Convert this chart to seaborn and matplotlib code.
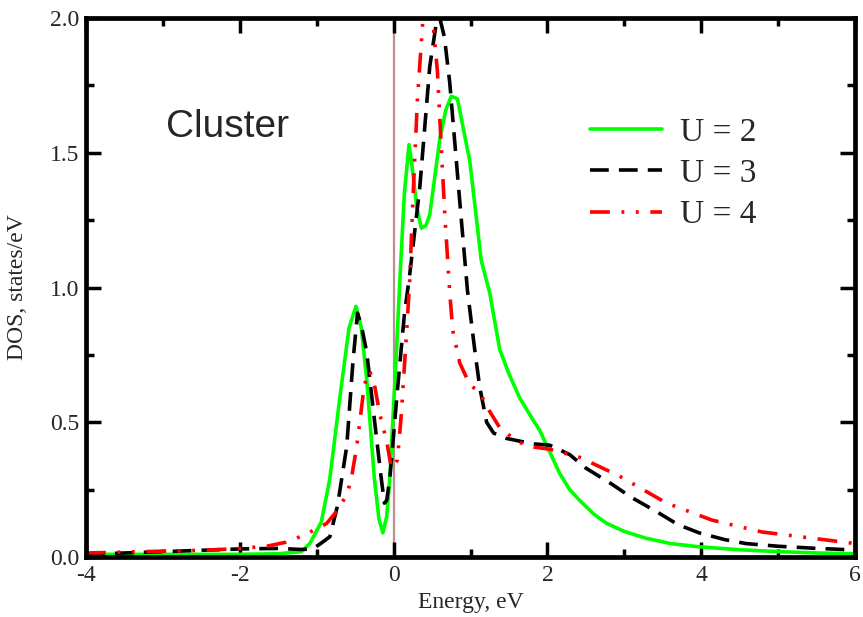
import numpy as np
import pandas as pd
import matplotlib
matplotlib.use('Agg')
import matplotlib.pyplot as plt
from matplotlib.ticker import MultipleLocator
import seaborn as sns

# DOS curves (energy in eV, DOS in states/eV)
x_u2 = [-4.0, -3.0, -2.0, -1.5, -1.2, -1.09, -0.94, -0.83, -0.70, -0.58, -0.49, -0.42,
        -0.35, -0.25, -0.19, -0.14, -0.09, -0.05, 0.04, 0.08, 0.14, 0.20, 0.24, 0.30,
        0.36, 0.42, 0.47, 0.54, 0.60, 0.68, 0.75, 0.83, 0.99, 1.14, 1.25, 1.38, 1.50,
        1.64, 1.81, 1.90, 2.03, 2.16, 2.29, 2.42, 2.60, 2.77, 3.0, 3.28, 3.6, 3.97,
        4.5, 5.0, 5.5, 6.0]
dos_u2 = [0.01, 0.01, 0.01, 0.012, 0.02, 0.05, 0.13, 0.29, 0.59, 0.85, 0.93, 0.85,
          0.66, 0.29, 0.14, 0.09, 0.15, 0.29, 0.78, 1.02, 1.35, 1.53, 1.45, 1.30,
          1.22, 1.23, 1.27, 1.42, 1.55, 1.66, 1.71, 1.70, 1.47, 1.10, 0.98, 0.77, 0.68,
          0.59, 0.51, 0.47, 0.39, 0.31, 0.25, 0.21, 0.16, 0.125, 0.095, 0.07, 0.05, 0.038,
          0.027, 0.02, 0.015, 0.012]

x_u3 = [-4.0, -3.5, -3.0, -2.5, -2.0, -1.5, -1.2, -1.05, -0.95, -0.83, -0.73, -0.61,
        -0.53, -0.47, -0.42, -0.35, -0.25, -0.16, -0.12, -0.09, -0.05, 0.05, 0.14, 0.21,
        0.34, 0.47, 0.56, 0.60, 0.66, 0.73, 0.86, 0.96, 1.05, 1.12, 1.21, 1.30, 1.47,
        1.81, 2.03, 2.29, 2.5, 2.84, 3.1, 3.41, 3.7, 3.97, 4.3, 4.58, 5.0, 5.44, 6.0]
dos_u3 = [0.01, 0.015, 0.02, 0.025, 0.03, 0.032, 0.028, 0.03, 0.05, 0.075, 0.19, 0.41,
          0.72, 0.905, 0.86, 0.76, 0.51, 0.29, 0.20, 0.21, 0.29, 0.62, 0.90, 1.05,
          1.37, 1.82, 1.99, 2.0, 1.93, 1.76, 1.32, 0.99, 0.78, 0.63, 0.50, 0.46, 0.44,
          0.42, 0.415, 0.38, 0.33, 0.27, 0.22, 0.17, 0.12, 0.09, 0.065, 0.05, 0.04, 0.033, 0.026]

x_u4 = [-4.0, -3.26, -2.5, -2.09, -1.65, -1.4, -1.22, -0.96, -0.87, -0.74, -0.61, -0.55,
        -0.48, -0.38, -0.31, -0.25, -0.18, -0.09, -0.03, 0.05, 0.10, 0.17, 0.21, 0.25,
        0.31, 0.38, 0.445, 0.51, 0.57, 0.62, 0.67, 0.73, 0.77, 0.86, 0.99, 1.12, 1.25,
        1.38, 1.60, 1.77, 2.03, 2.42, 2.94, 3.55, 4.14, 4.79, 5.44, 6.0]
dos_u4 = [0.015, 0.02, 0.025, 0.03, 0.04, 0.055, 0.075, 0.11, 0.125, 0.17, 0.23, 0.29,
          0.41, 0.64, 0.69, 0.64, 0.53, 0.43, 0.33, 0.36, 0.53, 0.84, 1.03, 1.32,
          1.70, 1.99, 2.08, 1.99, 1.80, 1.52, 1.25, 0.98, 0.84, 0.72, 0.64, 0.61, 0.54,
          0.48, 0.43, 0.41, 0.40, 0.37, 0.30, 0.20, 0.137, 0.093, 0.07, 0.05]

labels = ['U = 2', 'U = 3', 'U = 4']
colors = ['#00ff00', 'black', '#ff0000']
styles = ['-', (0, (5.2, 2.8)), (0, (5.5, 3.2, 0.8, 3.2, 0.8, 3.2))]

sns.set_style('ticks')
plt.rcParams['font.family'] = ['Liberation Serif', 'DejaVu Serif']
plt.rcParams['axes.unicode_minus'] = False

fig = plt.figure(figsize=(8.63, 6.17), dpi=100)
ax = fig.add_axes([0.0997, 0.0972, 0.891, 0.8736])

series = [(x_u2, dos_u2), (x_u3, dos_u3), (x_u4, dos_u4)]
for (xs, ys), lab, c, ls in zip(series, labels, colors, styles):
    sns.lineplot(x=xs, y=ys, ax=ax, color=c, linestyle=ls, lw=2.6,
                 label=lab, sort=False, estimator=None)

ax.axvline(0, color='#bc8f8f', lw=1.6, zorder=0)

ax.set_xlim(-4, 6)
ax.set_ylim(0, 2)
ax.xaxis.set_major_locator(MultipleLocator(2))
ax.xaxis.set_minor_locator(MultipleLocator(1))
ax.yaxis.set_major_locator(MultipleLocator(0.5))
ax.yaxis.set_minor_locator(MultipleLocator(0.25))
ax.yaxis.set_major_formatter(matplotlib.ticker.FormatStrFormatter('%.1f'))
ax.tick_params(which='both', direction='in', top=True, right=True, width=2.5,
               labelsize=17, color='black')
ax.tick_params(which='major', length=11)
ax.tick_params(which='minor', length=5.5)
ax.tick_params(axis='x', pad=6)
ax.tick_params(axis='y', pad=5)
for sp in ax.spines.values():
    sp.set_linewidth(3.4)
    sp.set_color('black')

ax.set_xlabel('Energy, eV', fontsize=17)
ax.set_ylabel('DOS, states/eV', fontsize=17)
ax.xaxis.set_label_coords(0.5, -0.065)
ax.yaxis.set_label_coords(-0.075, 0.5)

ax.text(-2.96, 1.56, 'Cluster', fontsize=28, family='Liberation Sans', va='baseline')

ax.legend(loc='center left', bbox_to_anchor=(0.655, 0.711), frameon=False,
          fontsize=24, handlelength=2.16, handletextpad=0.54, labelspacing=0.32,
          borderpad=0, borderaxespad=0)

fig.savefig('out.png', dpi=100)
